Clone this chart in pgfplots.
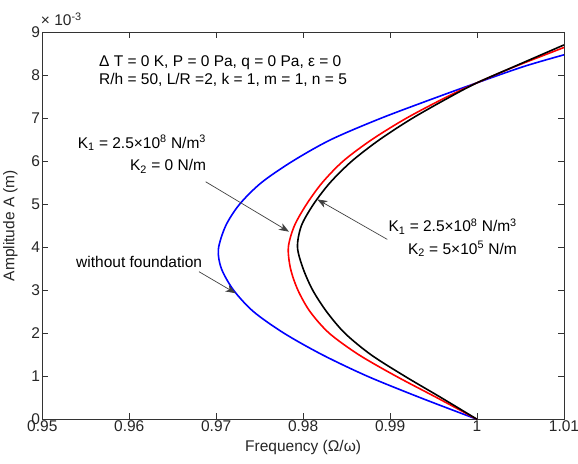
\documentclass[border=0pt]{standalone}
\usepackage{fontspec}
\setmainfont{Liberation Sans}
\usepackage{pgfplots}
\usepackage{pgfplotstable}
\pgfplotsset{compat=1.18}
\usetikzlibrary{arrows.meta,calc}

% amplitude in units of 1e-3 m
\pgfplotstableread{
x A
1.00000 0
0.99350 0.5
0.98740 1.0
0.98220 1.5
0.97780 2.0
0.97430 2.5
0.97200 3.0
0.97060 3.5
0.97025 3.95
0.97110 4.5
0.97270 5.0
0.97520 5.5
0.97880 6.0
0.98320 6.5
0.98900 7.0
0.99560 7.5
1.00000 7.82
1.00540 8.2
1.01000 8.47
}\nofound

\pgfplotstableread{
x A
1.00000 0
0.99540 0.5
0.99070 1.0
0.98640 1.5
0.98300 2.0
0.98080 2.5
0.97940 3.0
0.97855 3.5
0.97830 4.0
0.97900 4.5
0.98040 5.0
0.98220 5.5
0.98460 6.0
0.98790 6.5
0.99190 7.0
0.99660 7.5
1.00000 7.82
1.00440 8.2
1.01000 8.64
}\winkler

\pgfplotstableread{
x A
1.00000 0
0.99590 0.5
0.99170 1.0
0.98780 1.5
0.98480 2.0
0.98270 2.5
0.98110 3.0
0.98000 3.5
0.97935 4.0
0.97980 4.5
0.98120 5.0
0.98310 5.5
0.98560 6.0
0.98880 6.5
0.99260 7.0
0.99697 7.5
1.00000 7.82
1.00430 8.2
1.01000 8.70
}\pasternak

\newcommand\lbl{\fontsize{15.5bp}{18bp}\selectfont}

\begin{document}
\lbl
\begin{tikzpicture}[arr/.style={draw=black!75, line width=0.7bp, -{Stealth[length=10bp,width=7.5bp,inset=3bp]}}]
\begin{axis}[
  name=ax,
  scale only axis, width=521.7bp, height=387.3bp,
  xmin=0.95, xmax=1.01, ymin=0, ymax=9,
  xtick={0.95,0.96,0.97,0.98,0.99,1,1.01},
  xticklabels={0.95,0.96,0.97,0.98,0.99,1,1.01},
  ytick={0,1,2,3,4,5,6,7,8,9},
  yticklabels={0,1,2,3,4,5,6,7,8,9},
  tick align=inside, major tick length=6bp,
  tick style={black!80, line width=0.6bp},
  axis line style={black!80, line width=0.8bp},
  ticklabel style={font=\lbl, text=black!85},
  xticklabel style={inner sep=1.5bp},
  yticklabel style={inner sep=2bp},
  xlabel={Frequency (Ω/ω)}, ylabel={Amplitude A (m)},
  label style={font=\lbl, text=black!85},
  xlabel style={at={(axis description cs:0.5,0)}, anchor=center, yshift=-28bp},
  ylabel style={at={($(axis description cs:0,0.5)+(-32bp,0)$)}, anchor=center},
  every node/.append style={text=black!85},
]
\addplot[blue, line width=1.6bp, smooth] table[x=x, y=A] {\nofound};
\addplot[red, line width=1.6bp, smooth] table[x=x, y=A] {\winkler};
\addplot[black, line width=1.6bp, smooth] table[x=x, y=A] {\pasternak};

\node[anchor=base west, inner sep=0] at (axis cs:0.95652,8.19) {Δ T = 0 K, P = 0 Pa, q = 0 Pa, ε = 0};
\node[anchor=base west, inner sep=0] at (axis cs:0.95652,7.77) {R/h = 50, L/R =2, k = 1, m = 1, n = 5};
\node[anchor=base east, inner sep=0] at (axis cs:0.96885,6.30) {K\textsubscript{1} = 2.5×10\textsuperscript{8} N/m\textsuperscript{3}};
\node[anchor=base east, inner sep=0] at (axis cs:0.96885,5.78) {K\textsubscript{2} = 0 N/m};
\node[anchor=base west, inner sep=0] at (axis cs:0.95388,3.52) {without foundation};
\node[anchor=base east, inner sep=0] at (axis cs:1.00459,4.36) {K\textsubscript{1} = 2.5×10\textsuperscript{8} N/m\textsuperscript{3}};
\node[anchor=base east, inner sep=0] at (axis cs:1.00459,3.84) {K\textsubscript{2} = 5×10\textsuperscript{5} N/m};

\draw[arr] (axis cs:0.96879,5.52) -- (axis cs:0.97837,4.36);
\draw[arr] (axis cs:0.96802,3.43) -- (axis cs:0.97224,2.93);
\draw[arr] (axis cs:0.98968,4.18) -- (axis cs:0.98163,5.11);
\end{axis}
\node[anchor=base west, inner sep=0, text=black!85] at ($(ax.north west)+(-1.5bp,6bp)$) {× 10\textsuperscript{-3}};
\pgfresetboundingbox
\path[use as bounding box] ($(ax.south west)+(-42.3bp,-44.7bp)$) rectangle ($(ax.north east)+(14bp,32bp)$);
\end{tikzpicture}
\end{document}
